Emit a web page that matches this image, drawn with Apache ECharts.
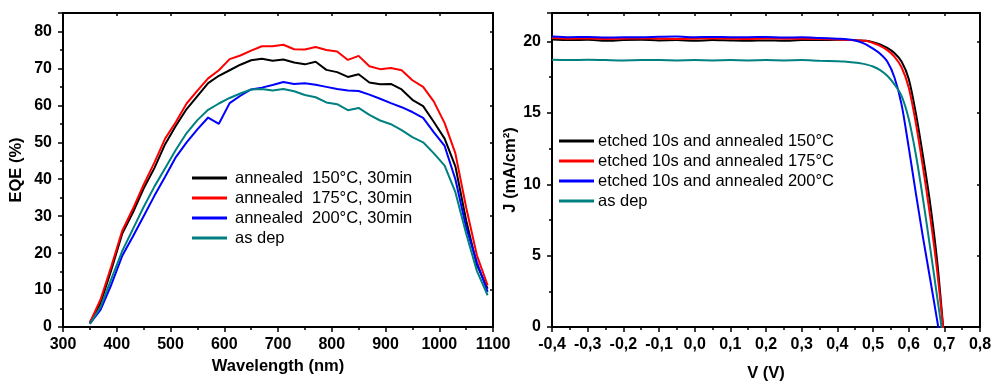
<!DOCTYPE html>
<html>
<head>
<meta charset="utf-8">
<script src="https://cdn.jsdelivr.net/npm/echarts@6/dist/echarts.min.js"></script>
<style>
html,body{margin:0;padding:0;background:#fff;}
#chart{width:994px;height:382px;}
</style>
</head>
<body>
<div id="chart"></div>
<script>
// ---- EQE chart data ----
var wavelengths = [350,370,390,410,430,450,470,490,510,530,550,570,590,610,630,650,670,690,710,730,750,770,790,810,830,850,870,890,910,930,950,970,990,1010,1030,1050,1070,1090];
var eqe150 = [1.2,6.5,15.5,25.2,31,37.5,43,49.5,54.5,59,62.5,66,68,69.5,71,72.2,72.6,72.1,72.4,71.6,71.1,71.8,69.6,69.0,67.7,68.4,66.2,65.7,65.8,64.3,61.5,59.8,55.5,51.0,43.5,28.9,16.8,10.4];
var eqe175 = [1.2,7.5,16.5,26,32,38.5,44.5,51,55.5,60.5,64,67.3,69.5,72.5,73.5,74.8,76,76,76.4,75.2,75.1,75.8,75,74.6,72.3,73.4,70.6,69.8,70.1,69.5,66.8,65,61,55.2,47,32.4,19.4,11.3];
var eqe200 = [0.9,4.7,11.5,19.2,24.5,30,35.5,40.7,46,50,53.5,56.7,55,60.6,62.6,64.3,64.8,65.5,66.3,65.8,66,65.6,65,64.4,64,63.9,62.9,61.8,60.6,59.5,58.2,56.6,52.7,49,40,27,17.5,9.5];
var eqeAsDep = [0.8,5.5,13,20.5,26.5,32.5,38,43,48,52.5,56,58.8,60.5,62,63.2,64.3,64.4,64,64.4,63.8,62.8,62.2,60.8,60.3,58.7,59.3,57.4,55.9,54.9,53.3,51.4,50,47,43.7,36.5,25.3,15.2,8.6];
var eqeNames = ['annealed  150\u00B0C, 30min','annealed  175\u00B0C, 30min','annealed  200\u00B0C, 30min','as dep'];

// ---- J-V chart data ----
var jvVoltage = [-0.4,-0.35,-0.3,-0.25,-0.2,-0.15,-0.1,-0.05,0,0.05,0.1,0.15,0.2,0.25,0.3,0.35,0.4,0.42,0.44,0.46,0.48,0.5,0.52,0.54,0.56,0.58,0.6,0.62,0.64,0.66,0.68,0.7];
var j150 = [20.15,20.1,20.12,20.05,20.1,20.12,20.08,20.1,20.06,20.1,20.07,20.05,20.08,20.05,20.1,20.1,20.12,20.12,20.1,20.08,20.05,19.95,19.8,19.55,19.2,18.6,17.4,15.0,12.0,8.7,4.6,-1.0];
var j175 = [20.25,20.2,20.22,20.18,20.2,20.22,20.2,20.18,20.2,20.22,20.2,20.18,20.22,20.2,20.2,20.18,20.15,20.12,20.1,20.08,20.05,19.9,19.7,19.4,18.95,18.2,16.8,14.3,11.2,7.8,3.9,-0.9];
var j200 = [20.35,20.3,20.32,20.28,20.3,20.3,20.33,20.35,20.3,20.32,20.3,20.3,20.32,20.28,20.3,20.25,20.2,20.18,20.12,20.0,19.8,19.5,19.15,18.6,17.5,15.6,12.6,9.4,6.3,3.4,0.45,-2.5];
var jAsDep = [18.72,18.7,18.72,18.7,18.68,18.7,18.7,18.68,18.7,18.68,18.7,18.68,18.7,18.68,18.7,18.65,18.62,18.6,18.55,18.5,18.4,18.25,18.0,17.6,17.0,16.2,14.6,12.1,9.0,5.6,2.1,-1.4];
var jvNames = ['etched 10s and annealed 150\u00B0C','etched 10s and annealed 175\u00B0C','etched 10s and annealed 200\u00B0C','as dep'];

// ---- tick labels ----
var eqeXTicks = [300,400,500,600,700,800,900,1000,1100];
var eqeYTicks = [0,10,20,30,40,50,60,70,80];
var jvXTicks = [-0.4,-0.3,-0.2,-0.1,0,0.1,0.2,0.3,0.4,0.5,0.6,0.7,0.8];
var jvYTicks = [0,5,10,15,20];

var colors = ['#000000','#ff0000','#0000ff','#008080'];
var FONT = '"Liberation Sans", Arial, sans-serif';

function mainAxis(opts) {
  return {
    type: 'value',
    gridIndex: opts.grid,
    position: opts.position,
    min: opts.min, max: opts.max, interval: opts.interval,
    axisLine: {show: true, onZero: false, lineStyle: {color: '#000', width: 2}},
    axisTick: {show: true, inside: false, length: 5, lineStyle: {color: '#000', width: 1.5}},
    minorTick: {show: true, splitNumber: 2, length: 3, lineStyle: {color: '#000', width: 1.5}},
    splitLine: {show: false},
    axisLabel: {
      show: true, fontSize: 16, fontWeight: 'bold', color: '#000', fontFamily: FONT,
      margin: opts.margin, showMaxLabel: opts.showMax, formatter: opts.formatter
    },
    name: opts.name, nameLocation: 'middle', nameGap: opts.nameGap,
    nameTextStyle: {fontSize: 16.5, fontWeight: 'bold', color: '#000', fontFamily: FONT}
  };
}
function mirrorAxis(grid, position, min, max, interval) {
  return {
    type: 'value', gridIndex: grid, position: position, min: min, max: max, interval: interval,
    axisLine: {show: true, onZero: false, lineStyle: {color: '#000', width: 2}},
    axisTick: {show: true, inside: true, length: 3, lineStyle: {color: '#000', width: 1.5}},
    minorTick: {show: false},
    splitLine: {show: false},
    axisLabel: {show: false}
  };
}

function eqeLabel(v) { return eqeXTicks.indexOf(v) >= 0 ? String(v) : ''; }
function eqeYLabel(v) { return eqeYTicks.indexOf(v) >= 0 ? String(v) : ''; }
function jvXLabel(v) {
  var r = Math.round(v * 10) / 10;
  for (var i = 0; i < jvXTicks.length; i++) {
    if (Math.abs(jvXTicks[i] - r) < 1e-6) return jvXTicks[i].toFixed(1).replace('.', ',');
  }
  return '';
}
function jvYLabel(v) { return jvYTicks.indexOf(v) >= 0 ? String(v) : ''; }

var eqeSeriesData = [eqe150, eqe175, eqe200, eqeAsDep];
var jvSeriesData = [j150, j175, j200, jAsDep];

var series = [];
eqeSeriesData.forEach(function (arr, k) {
  series.push({
    type: 'line', name: eqeNames[k], xAxisIndex: 0, yAxisIndex: 0,
    data: wavelengths.map(function (w, i) { return [w, arr[i]]; }),
    showSymbol: false, symbol: 'none', smooth: false,
    lineStyle: {color: colors[k], width: 2}, itemStyle: {color: colors[k]},
    animation: false, z: 2
  });
});
jvSeriesData.forEach(function (arr, k) {
  series.push({
    type: 'line', name: jvNames[k], xAxisIndex: 2, yAxisIndex: 2,
    data: jvVoltage.map(function (v, i) { return [v, arr[i]]; }),
    showSymbol: false, symbol: 'none', smooth: 0.3, clip: true,
    lineStyle: {color: colors[k], width: 2}, itemStyle: {color: colors[k]},
    animation: false, z: 2
  });
});

var legendBase = {
  orient: 'vertical', itemGap: 0, itemWidth: 35, itemHeight: 3, icon: 'rect',
  selectedMode: false, padding: 0
};
var leftLegend = Object.assign({}, legendBase, {
  left: 192, top: 168, data: eqeNames.map(function (n, k) { return {name: n, itemStyle: {color: colors[k]}}; }),
  textStyle: {fontSize: 16.5, color: '#000', fontFamily: FONT, lineHeight: 20, padding: [0, 0, 0, 3]}
});
var rightLegend = Object.assign({}, legendBase, {
  left: 559, top: 131, data: jvNames.map(function (n, k) { return {name: n, itemStyle: {color: colors[k]}}; }),
  textStyle: {fontSize: 16.5, color: '#000', fontFamily: FONT, lineHeight: 20, padding: [0, 0, 0, -1]}
});

var option = {
  animation: false,
  backgroundColor: '#fff',
  grid: [
    {left: 63, top: 13, width: 430, height: 314, outerBoundsMode: 'none', containLabel: false},
    {left: 552, top: 13, width: 428, height: 314, outerBoundsMode: 'none', containLabel: false}
  ],
  legend: [leftLegend, rightLegend],
  xAxis: [
    mainAxis({grid: 0, position: 'bottom', min: 300, max: 1100, interval: 100, margin: 10, showMax: true,
      formatter: eqeLabel, name: 'Wavelength (nm)', nameGap: 29}),
    mirrorAxis(0, 'top', 300, 1100, 100),
    mainAxis({grid: 1, position: 'bottom', min: -0.4, max: 0.8, interval: 0.1, margin: 10, showMax: true,
      formatter: jvXLabel, name: 'V (V)', nameGap: 38}),
    mirrorAxis(1, 'top', -0.4, 0.8, 0.1)
  ],
  yAxis: [
    mainAxis({grid: 0, position: 'left', min: 0, max: 85, interval: 10, margin: 11, showMax: false,
      formatter: eqeYLabel, name: 'EQE (%)', nameGap: 38}),
    mirrorAxis(0, 'right', 0, 85, 10),
    mainAxis({grid: 1, position: 'left', min: 0, max: 22, interval: 5, margin: 11, showMax: false,
      formatter: jvYLabel, name: 'J (mA/cm\u00B2)', nameGap: 33}),
    mirrorAxis(1, 'right', 0, 22, 5)
  ],
  series: series
};

var chart = echarts.init(document.getElementById('chart'), null, {renderer: 'canvas'});
chart.setOption(option);
</script>
</body>
</html>
